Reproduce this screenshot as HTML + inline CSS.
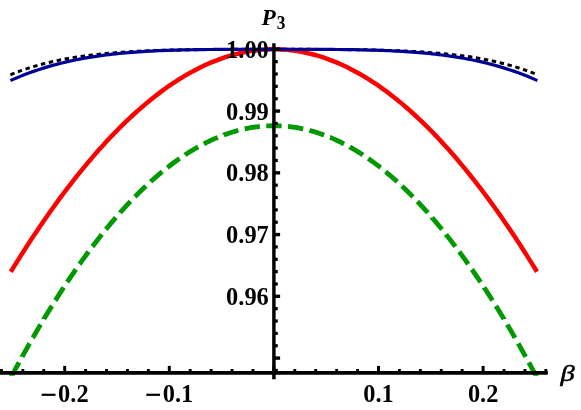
<!DOCTYPE html>
<html><head><meta charset="utf-8"><title>plot</title>
<style>
html,body{margin:0;padding:0;background:#fff;}
body{width:581px;height:410px;overflow:hidden;}
svg{display:block;will-change:transform;}
text{font-family:"Liberation Serif",serif;font-weight:bold;fill:#000;}
</style></head><body>
<svg width="581" height="410" viewBox="0 0 581 410">
<defs><clipPath id="gc"><rect x="0" y="0" width="581" height="375.8"/></clipPath></defs>
<rect width="581" height="410" fill="#fff"/>
<g fill="none" stroke-linecap="butt" stroke-linejoin="round">
<path d="M10.41 74.80 L13.71 73.46 L17.00 72.18 L20.29 70.95 L23.59 69.78 L26.88 68.67 L30.17 67.60 L33.47 66.58 L36.76 65.62 L40.05 64.69 L43.35 63.82 L46.64 62.98 L49.94 62.18 L53.23 61.43 L56.52 60.71 L59.82 60.02 L63.11 59.38 L66.40 58.76 L69.70 58.18 L72.99 57.62 L76.28 57.10 L79.58 56.60 L82.87 56.13 L86.17 55.69 L89.46 55.26 L92.75 54.87 L96.05 54.49 L99.34 54.14 L102.63 53.80 L105.93 53.49 L109.22 53.19 L112.51 52.92 L115.81 52.65 L119.10 52.41 L122.39 52.18 L125.69 51.96 L128.98 51.76 L132.28 51.57 L135.57 51.39 L138.86 51.22 L142.16 51.07 L145.45 50.92 L148.74 50.79 L152.04 50.66 L155.33 50.54 L158.62 50.44 L161.92 50.33 L165.21 50.24 L168.51 50.16 L171.80 50.08 L175.09 50.00 L178.39 49.93 L181.68 49.87 L184.97 49.81 L188.27 49.76 L191.56 49.71 L194.85 49.67 L198.15 49.63 L201.44 49.59 L204.73 49.56 L208.03 49.52 L211.32 49.50 L214.62 49.47 L217.91 49.45 L221.20 49.43 L224.50 49.41 L227.79 49.39 L231.08 49.38 L234.38 49.37 L237.67 49.35 L240.96 49.34 L244.26 49.33 L247.55 49.33 L250.84 49.32 L254.14 49.31 L257.43 49.31 L260.73 49.31 L264.02 49.30 L267.31 49.30 L270.61 49.30 L273.90 49.30 L277.19 49.30 L280.49 49.30 L283.78 49.30 L287.07 49.31 L290.37 49.31 L293.66 49.31 L296.96 49.32 L300.25 49.33 L303.54 49.33 L306.84 49.34 L310.13 49.35 L313.42 49.37 L316.72 49.38 L320.01 49.39 L323.30 49.41 L326.60 49.43 L329.89 49.45 L333.18 49.47 L336.48 49.50 L339.77 49.52 L343.07 49.56 L346.36 49.59 L349.65 49.63 L352.95 49.67 L356.24 49.71 L359.53 49.76 L362.83 49.81 L366.12 49.87 L369.41 49.93 L372.71 50.00 L376.00 50.08 L379.29 50.16 L382.59 50.24 L385.88 50.33 L389.18 50.44 L392.47 50.54 L395.76 50.66 L399.06 50.79 L402.35 50.92 L405.64 51.07 L408.94 51.22 L412.23 51.39 L415.52 51.57 L418.82 51.76 L422.11 51.96 L425.41 52.18 L428.70 52.41 L431.99 52.65 L435.29 52.92 L438.58 53.19 L441.87 53.49 L445.17 53.80 L448.46 54.14 L451.75 54.49 L455.05 54.87 L458.34 55.26 L461.63 55.69 L464.93 56.13 L468.22 56.60 L471.52 57.10 L474.81 57.62 L478.10 58.18 L481.40 58.76 L484.69 59.38 L487.98 60.02 L491.28 60.71 L494.57 61.43 L497.86 62.18 L501.16 62.98 L504.45 63.82 L507.75 64.69 L511.04 65.62 L514.33 66.58 L517.63 67.60 L520.92 68.67 L524.21 69.78 L527.51 70.95 L530.80 72.18 L534.09 73.46 L537.39 74.80" stroke="#000" stroke-width="3.0" stroke-dasharray="4.400 3.682"/>
<path d="M7.56 383.94 L7.56 383.94 L8.52 382.11 L9.47 380.29 L10.43 378.47 L11.39 376.66 L12.35 374.86 L13.31 373.06 L14.27 371.27 L15.23 369.48 L16.19 367.70 L17.15 365.93 L18.10 364.16 L19.05 362.43 M22.15 356.78 L22.15 356.77 L22.77 355.66 L23.38 354.55 L23.99 353.45 L24.60 352.35 L25.22 351.25 L25.83 350.15 L26.44 349.06 L27.05 347.97 L27.67 346.88 L28.28 345.80 L28.89 344.71 L29.50 343.63 L29.66 343.37 M32.85 337.77 L32.86 337.76 L33.50 336.65 L34.14 335.54 L34.78 334.44 L35.42 333.34 L36.06 332.24 L36.69 331.14 L37.33 330.05 L37.97 328.96 L38.61 327.87 L39.25 326.79 L39.89 325.70 L40.53 324.63 L40.61 324.50 M43.91 318.97 L43.91 318.96 L44.58 317.86 L45.24 316.75 L45.91 315.66 L46.58 314.56 L47.24 313.47 L47.91 312.38 L48.57 311.29 L49.24 310.21 L49.91 309.12 L50.57 308.05 L51.24 306.97 L51.90 305.90 L51.93 305.86 M55.35 300.40 L55.37 300.38 L56.06 299.28 L56.75 298.19 L57.44 297.10 L58.14 296.02 L58.83 294.94 L59.52 293.86 L60.21 292.79 L60.91 291.72 L61.60 290.65 L62.29 289.58 L62.98 288.52 L63.67 287.47 M67.22 282.10 L67.24 282.07 L67.96 280.99 L68.68 279.92 L69.40 278.85 L70.12 277.78 L70.84 276.72 L71.56 275.66 L72.28 274.60 L73.00 273.55 L73.72 272.51 L74.44 271.46 L75.15 270.42 L75.87 269.39 M79.57 264.11 L79.58 264.10 L80.32 263.05 L81.07 262.00 L81.81 260.96 L82.56 259.92 L83.30 258.88 L84.05 257.85 L84.80 256.82 L85.54 255.80 L86.29 254.78 L87.03 253.76 L87.78 252.75 L88.53 251.74 L88.58 251.66 M92.44 246.50 L92.47 246.47 L93.24 245.45 L94.01 244.44 L94.78 243.43 L95.56 242.42 L96.33 241.42 L97.10 240.42 L97.87 239.43 L98.65 238.44 L99.42 237.45 L100.19 236.47 L100.96 235.50 L101.74 234.52 L101.86 234.36 M105.91 229.34 L105.92 229.33 L106.72 228.36 L107.52 227.38 L108.31 226.41 L109.11 225.45 L109.91 224.49 L110.71 223.54 L111.51 222.59 L112.31 221.64 L113.11 220.70 L113.91 219.76 L114.71 218.83 L115.51 217.90 L115.79 217.57 M120.04 212.73 L120.06 212.70 L120.91 211.75 L121.76 210.80 L122.62 209.85 L123.47 208.91 L124.32 207.98 L125.17 207.04 L126.03 206.12 L126.88 205.20 L127.73 204.29 L128.58 203.38 L129.44 202.47 L130.29 201.57 L130.44 201.41 M134.92 196.78 L134.92 196.78 L135.83 195.86 L136.73 194.94 L137.64 194.04 L138.54 193.14 L139.45 192.24 L140.36 191.35 L141.26 190.47 L142.17 189.59 L143.07 188.72 L143.98 187.85 L144.88 186.99 L145.79 186.14 L145.90 186.03 M150.64 181.66 L150.66 181.64 L151.62 180.78 L152.58 179.92 L153.54 179.07 L154.50 178.23 L155.46 177.39 L156.42 176.56 L157.37 175.74 L158.33 174.92 L159.29 174.11 L160.25 173.31 L161.21 172.51 L162.17 171.72 L162.28 171.63 M167.31 167.60 L167.31 167.60 L168.32 166.81 L169.33 166.02 L170.35 165.25 L171.36 164.48 L172.37 163.72 L173.38 162.97 L174.39 162.23 L175.41 161.49 L176.42 160.76 L177.43 160.04 L178.44 159.33 L179.45 158.62 L179.67 158.47 M185.01 154.87 L185.02 154.86 L186.11 154.15 L187.21 153.45 L188.30 152.76 L189.39 152.08 L190.48 151.40 L191.57 150.74 L192.67 150.08 L193.76 149.43 L194.85 148.79 L195.94 148.16 L197.03 147.54 L198.13 146.92 L198.15 146.91 M203.83 143.86 L203.85 143.85 L205.00 143.26 L206.14 142.68 L207.29 142.12 L208.43 141.56 L209.58 141.01 L210.72 140.47 L211.87 139.94 L213.01 139.42 L214.16 138.92 L215.30 138.42 L216.45 137.93 L217.60 137.45 L217.76 137.38 M223.76 135.03 L223.77 135.02 L224.97 134.58 L226.17 134.16 L227.37 133.74 L228.57 133.33 L229.77 132.94 L230.97 132.55 L232.16 132.18 L233.36 131.81 L234.56 131.46 L235.76 131.12 L236.96 130.79 L238.16 130.46 L238.41 130.40 M244.68 128.90 L244.68 128.90 L245.93 128.64 L247.19 128.38 L248.44 128.14 L249.69 127.91 L250.94 127.70 L252.19 127.49 L253.44 127.29 L254.70 127.11 L255.95 126.94 L257.20 126.78 L258.45 126.63 L259.70 126.49 L259.85 126.48 M266.27 125.96 L266.28 125.96 L267.56 125.90 L268.84 125.84 L270.12 125.80 L271.40 125.77 L272.67 125.76 L273.95 125.75 L275.23 125.76 L276.51 125.78 L277.79 125.81 L279.07 125.85 L280.35 125.90 L281.62 125.97 L281.63 125.97 M288.06 126.49 L288.07 126.49 L289.32 126.63 L290.57 126.78 L291.82 126.94 L293.08 127.11 L294.33 127.29 L295.58 127.48 L296.83 127.69 L298.08 127.91 L299.34 128.14 L300.59 128.38 L301.84 128.63 L303.09 128.90 L303.22 128.92 M309.49 130.42 L309.51 130.43 L310.71 130.75 L311.91 131.08 L313.11 131.42 L314.30 131.77 L315.50 132.14 L316.70 132.51 L317.90 132.89 L319.10 133.29 L320.30 133.69 L321.50 134.11 L322.69 134.53 L323.89 134.97 L324.14 135.06 M330.13 137.42 L330.15 137.42 L331.30 137.90 L332.44 138.39 L333.59 138.89 L334.73 139.40 L335.88 139.92 L337.02 140.45 L338.17 140.98 L339.31 141.53 L340.46 142.09 L341.60 142.66 L342.75 143.23 L343.89 143.82 L344.06 143.90 M349.74 146.96 L349.75 146.97 L350.85 147.58 L351.94 148.20 L353.03 148.84 L354.12 149.48 L355.21 150.13 L356.31 150.78 L357.40 151.45 L358.49 152.13 L359.58 152.81 L360.67 153.50 L361.77 154.21 L362.86 154.92 L362.87 154.93 M368.22 158.53 L368.24 158.54 L369.25 159.25 L370.26 159.96 L371.27 160.69 L372.29 161.41 L373.30 162.15 L374.31 162.89 L375.32 163.65 L376.34 164.40 L377.35 165.17 L378.36 165.94 L379.37 166.72 L380.38 167.51 L380.57 167.66 M385.60 171.70 L385.60 171.70 L386.56 172.49 L387.52 173.28 L388.48 174.09 L389.44 174.90 L390.40 175.71 L391.36 176.54 L392.32 177.37 L393.27 178.21 L394.23 179.05 L395.19 179.90 L396.15 180.76 L397.11 181.62 L397.24 181.73 M401.97 186.10 L401.98 186.11 L402.89 186.97 L403.80 187.83 L404.70 188.69 L405.61 189.56 L406.51 190.44 L407.42 191.32 L408.32 192.21 L409.23 193.11 L410.13 194.01 L411.04 194.92 L411.95 195.83 L412.85 196.75 L412.95 196.85 M417.43 201.49 L417.46 201.52 L418.31 202.42 L419.16 203.32 L420.02 204.23 L420.87 205.14 L421.72 206.06 L422.57 206.99 L423.42 207.92 L424.28 208.85 L425.13 209.79 L425.98 210.74 L426.83 211.69 L427.69 212.64 L427.83 212.81 M432.08 217.65 L432.08 217.66 L432.88 218.58 L433.68 219.51 L434.48 220.45 L435.28 221.39 L436.08 222.33 L436.88 223.28 L437.67 224.24 L438.47 225.19 L439.27 226.16 L440.07 227.12 L440.87 228.10 L441.67 229.07 L441.96 229.42 M446.00 234.44 L446.01 234.46 L446.78 235.43 L447.56 236.41 L448.33 237.39 L449.10 238.37 L449.87 239.36 L450.65 240.35 L451.42 241.35 L452.19 242.35 L452.96 243.36 L453.73 244.37 L454.51 245.38 L455.28 246.40 L455.42 246.59 M459.28 251.75 L459.30 251.78 L460.05 252.78 L460.79 253.80 L461.54 254.81 L462.28 255.83 L463.03 256.86 L463.78 257.89 L464.52 258.92 L465.27 259.96 L466.01 261.00 L466.76 262.04 L467.50 263.09 L468.25 264.14 L468.29 264.20 M471.99 269.48 L472.01 269.50 L472.73 270.54 L473.44 271.58 L474.16 272.62 L474.88 273.67 L475.60 274.72 L476.32 275.78 L477.04 276.84 L477.76 277.90 L478.48 278.97 L479.20 280.04 L479.92 281.11 L480.63 282.18 M484.19 287.56 L484.20 287.59 L484.90 288.64 L485.59 289.71 L486.28 290.77 L486.97 291.84 L487.67 292.91 L488.36 293.98 L489.05 295.06 L489.74 296.14 L490.44 297.23 L491.13 298.32 L491.82 299.41 L492.50 300.48 M495.92 305.94 L495.95 305.99 L496.62 307.06 L497.28 308.13 L497.95 309.21 L498.61 310.29 L499.28 311.38 L499.95 312.46 L500.61 313.55 L501.28 314.65 L501.94 315.74 L502.61 316.84 L503.27 317.95 L503.94 319.05 L503.94 319.06 M507.25 324.59 L507.27 324.63 L507.91 325.70 L508.55 326.79 L509.19 327.87 L509.83 328.96 L510.47 330.05 L511.11 331.14 L511.74 332.24 L512.38 333.34 L513.02 334.44 L513.66 335.54 L514.30 336.65 L514.94 337.76 L515.00 337.86 M518.20 343.46 L518.22 343.49 L518.83 344.57 L519.44 345.66 L520.05 346.74 L520.67 347.83 L521.28 348.92 L521.89 350.01 L522.50 351.11 L523.12 352.21 L523.73 353.31 L524.34 354.41 L524.95 355.52 L525.57 356.62 L525.70 356.87 M528.80 362.52 L528.82 362.55 L529.75 364.26 L530.68 365.98 L531.61 367.70 L532.55 369.43 L533.48 371.17 L534.41 372.91 L535.34 374.66 L536.27 376.41 L537.21 378.17 L538.14 379.94 L539.07 381.71 L540.00 383.48 L540.24 383.94" stroke="#009900" stroke-width="4.8" clip-path="url(#gc)"/>
<path d="M10.83 271.79 L14.12 266.42 L17.41 261.12 L20.70 255.88 L23.98 250.70 L27.27 245.59 L30.56 240.54 L33.85 235.55 L37.14 230.63 L40.43 225.77 L43.71 220.97 L47.00 216.23 L50.29 211.56 L53.58 206.96 L56.87 202.41 L60.16 197.93 L63.44 193.51 L66.73 189.15 L70.02 184.86 L73.31 180.63 L76.60 176.47 L79.89 172.36 L83.17 168.32 L86.46 164.35 L89.75 160.44 L93.04 156.59 L96.33 152.81 L99.62 149.09 L102.91 145.44 L106.19 141.85 L109.48 138.32 L112.77 134.86 L116.06 131.47 L119.35 128.14 L122.64 124.88 L125.92 121.68 L129.21 118.55 L132.50 115.48 L135.79 112.49 L139.08 109.56 L142.37 106.69 L145.65 103.89 L148.94 101.16 L152.23 98.50 L155.52 95.91 L158.81 93.38 L162.10 90.92 L165.38 88.54 L168.67 86.21 L171.96 83.96 L175.25 81.78 L178.54 79.67 L181.83 77.62 L185.11 75.65 L188.40 73.75 L191.69 71.91 L194.98 70.15 L198.27 68.46 L201.56 66.83 L204.84 65.28 L208.13 63.80 L211.42 62.39 L214.71 61.06 L218.00 59.79 L221.29 58.59 L224.57 57.47 L227.86 56.42 L231.15 55.44 L234.44 54.53 L237.73 53.70 L241.02 52.94 L244.30 52.25 L247.59 51.63 L250.88 51.08 L254.17 50.61 L257.46 50.21 L260.75 49.88 L264.03 49.63 L267.32 49.45 L270.61 49.34 L273.90 49.30 L277.19 49.34 L280.48 49.45 L283.77 49.63 L287.05 49.88 L290.34 50.21 L293.63 50.61 L296.92 51.08 L300.21 51.63 L303.50 52.25 L306.78 52.94 L310.07 53.70 L313.36 54.53 L316.65 55.44 L319.94 56.42 L323.23 57.47 L326.51 58.59 L329.80 59.79 L333.09 61.06 L336.38 62.39 L339.67 63.80 L342.96 65.28 L346.24 66.83 L349.53 68.46 L352.82 70.15 L356.11 71.91 L359.40 73.75 L362.69 75.65 L365.97 77.62 L369.26 79.67 L372.55 81.78 L375.84 83.96 L379.13 86.21 L382.42 88.54 L385.70 90.92 L388.99 93.38 L392.28 95.91 L395.57 98.50 L398.86 101.16 L402.15 103.89 L405.43 106.69 L408.72 109.56 L412.01 112.49 L415.30 115.48 L418.59 118.55 L421.88 121.68 L425.16 124.88 L428.45 128.14 L431.74 131.47 L435.03 134.86 L438.32 138.32 L441.61 141.85 L444.89 145.44 L448.18 149.09 L451.47 152.81 L454.76 156.59 L458.05 160.44 L461.34 164.35 L464.63 168.32 L467.91 172.36 L471.20 176.47 L474.49 180.63 L477.78 184.86 L481.07 189.15 L484.36 193.51 L487.64 197.93 L490.93 202.41 L494.22 206.96 L497.51 211.56 L500.80 216.23 L504.09 220.97 L507.37 225.77 L510.66 230.63 L513.95 235.55 L517.24 240.54 L520.53 245.59 L523.82 250.70 L527.10 255.88 L530.39 261.12 L533.68 266.42 L536.97 271.79" stroke="#ff0000" stroke-width="4.5"/>
<path d="M10.41 80.60 L13.71 79.14 L17.00 77.72 L20.29 76.36 L23.59 75.04 L26.88 73.78 L30.17 72.56 L33.47 71.38 L36.76 70.25 L40.05 69.16 L43.35 68.12 L46.64 67.12 L49.94 66.15 L53.23 65.23 L56.52 64.34 L59.82 63.49 L63.11 62.68 L66.40 61.90 L69.70 61.16 L72.99 60.45 L76.28 59.77 L79.58 59.13 L82.87 58.51 L86.17 57.93 L89.46 57.37 L92.75 56.84 L96.05 56.33 L99.34 55.85 L102.63 55.40 L105.93 54.97 L109.22 54.57 L112.51 54.18 L115.81 53.82 L119.10 53.48 L122.39 53.16 L125.69 52.85 L128.98 52.57 L132.28 52.30 L135.57 52.05 L138.86 51.82 L142.16 51.60 L145.45 51.40 L148.74 51.21 L152.04 51.03 L155.33 50.87 L158.62 50.72 L161.92 50.58 L165.21 50.45 L168.51 50.33 L171.80 50.22 L175.09 50.12 L178.39 50.03 L181.68 49.95 L184.97 49.87 L188.27 49.80 L191.56 49.74 L194.85 49.68 L198.15 49.63 L201.44 49.59 L204.73 49.55 L208.03 49.51 L211.32 49.48 L214.62 49.45 L217.91 49.43 L221.20 49.41 L224.50 49.39 L227.79 49.37 L231.08 49.36 L234.38 49.35 L237.67 49.34 L240.96 49.33 L244.26 49.32 L247.55 49.32 L250.84 49.31 L254.14 49.31 L257.43 49.31 L260.73 49.30 L264.02 49.30 L267.31 49.30 L270.61 49.30 L273.90 49.30 L277.19 49.30 L280.49 49.30 L283.78 49.30 L287.07 49.30 L290.37 49.31 L293.66 49.31 L296.96 49.31 L300.25 49.32 L303.54 49.32 L306.84 49.33 L310.13 49.34 L313.42 49.35 L316.72 49.36 L320.01 49.37 L323.30 49.39 L326.60 49.41 L329.89 49.43 L333.18 49.45 L336.48 49.48 L339.77 49.51 L343.07 49.55 L346.36 49.59 L349.65 49.63 L352.95 49.68 L356.24 49.74 L359.53 49.80 L362.83 49.87 L366.12 49.95 L369.41 50.03 L372.71 50.12 L376.00 50.22 L379.29 50.33 L382.59 50.45 L385.88 50.58 L389.18 50.72 L392.47 50.87 L395.76 51.03 L399.06 51.21 L402.35 51.40 L405.64 51.60 L408.94 51.82 L412.23 52.05 L415.52 52.30 L418.82 52.57 L422.11 52.85 L425.41 53.16 L428.70 53.48 L431.99 53.82 L435.29 54.18 L438.58 54.57 L441.87 54.97 L445.17 55.40 L448.46 55.85 L451.75 56.33 L455.05 56.84 L458.34 57.37 L461.63 57.93 L464.93 58.51 L468.22 59.13 L471.52 59.77 L474.81 60.45 L478.10 61.16 L481.40 61.90 L484.69 62.68 L487.98 63.49 L491.28 64.34 L494.57 65.23 L497.86 66.15 L501.16 67.12 L504.45 68.12 L507.75 69.16 L511.04 70.25 L514.33 71.38 L517.63 72.56 L520.92 73.78 L524.21 75.04 L527.51 76.36 L530.80 77.72 L534.09 79.14 L537.39 80.60" stroke="#000096" stroke-width="3.2"/>
</g>
<g stroke="#000" fill="none">
<line x1="0" y1="372.8" x2="547.8" y2="372.8" stroke-width="3.8"/>
<line x1="273.9" y1="43.2" x2="273.9" y2="379.3" stroke-width="3.45"/>
<line x1="1.45" y1="372.80" x2="1.45" y2="369.00" stroke-width="2.9"/>
<line x1="22.86" y1="372.80" x2="22.86" y2="369.00" stroke-width="2.9"/>
<line x1="43.78" y1="372.80" x2="43.78" y2="369.00" stroke-width="2.9"/>
<line x1="64.70" y1="372.80" x2="64.70" y2="365.90" stroke-width="3.0"/>
<line x1="85.62" y1="372.80" x2="85.62" y2="369.00" stroke-width="2.9"/>
<line x1="106.54" y1="372.80" x2="106.54" y2="369.00" stroke-width="2.9"/>
<line x1="127.46" y1="372.80" x2="127.46" y2="369.00" stroke-width="2.9"/>
<line x1="148.38" y1="372.80" x2="148.38" y2="369.00" stroke-width="2.9"/>
<line x1="169.30" y1="372.80" x2="169.30" y2="365.90" stroke-width="3.0"/>
<line x1="190.22" y1="372.80" x2="190.22" y2="369.00" stroke-width="2.9"/>
<line x1="211.14" y1="372.80" x2="211.14" y2="369.00" stroke-width="2.9"/>
<line x1="232.06" y1="372.80" x2="232.06" y2="369.00" stroke-width="2.9"/>
<line x1="252.98" y1="372.80" x2="252.98" y2="369.00" stroke-width="2.9"/>
<line x1="273.90" y1="372.80" x2="273.90" y2="365.90" stroke-width="3.0"/>
<line x1="294.82" y1="372.80" x2="294.82" y2="369.00" stroke-width="2.9"/>
<line x1="315.74" y1="372.80" x2="315.74" y2="369.00" stroke-width="2.9"/>
<line x1="336.66" y1="372.80" x2="336.66" y2="369.00" stroke-width="2.9"/>
<line x1="357.58" y1="372.80" x2="357.58" y2="369.00" stroke-width="2.9"/>
<line x1="378.50" y1="372.80" x2="378.50" y2="365.90" stroke-width="3.0"/>
<line x1="399.42" y1="372.80" x2="399.42" y2="369.00" stroke-width="2.9"/>
<line x1="420.34" y1="372.80" x2="420.34" y2="369.00" stroke-width="2.9"/>
<line x1="441.26" y1="372.80" x2="441.26" y2="369.00" stroke-width="2.9"/>
<line x1="462.18" y1="372.80" x2="462.18" y2="369.00" stroke-width="2.9"/>
<line x1="483.10" y1="372.80" x2="483.10" y2="365.90" stroke-width="3.0"/>
<line x1="504.02" y1="372.80" x2="504.02" y2="369.00" stroke-width="2.9"/>
<line x1="524.94" y1="372.80" x2="524.94" y2="369.00" stroke-width="2.9"/>
<line x1="545.86" y1="372.80" x2="545.86" y2="369.00" stroke-width="2.9"/>
<line x1="273.90" y1="49.30" x2="280.10" y2="49.30" stroke-width="3.4"/>
<line x1="273.90" y1="61.65" x2="277.80" y2="61.65" stroke-width="3.2"/>
<line x1="273.90" y1="74.00" x2="277.80" y2="74.00" stroke-width="3.2"/>
<line x1="273.90" y1="86.36" x2="277.80" y2="86.36" stroke-width="3.2"/>
<line x1="273.90" y1="98.71" x2="277.80" y2="98.71" stroke-width="3.2"/>
<line x1="273.90" y1="111.06" x2="280.10" y2="111.06" stroke-width="3.4"/>
<line x1="273.90" y1="123.41" x2="277.80" y2="123.41" stroke-width="3.2"/>
<line x1="273.90" y1="135.76" x2="277.80" y2="135.76" stroke-width="3.2"/>
<line x1="273.90" y1="148.12" x2="277.80" y2="148.12" stroke-width="3.2"/>
<line x1="273.90" y1="160.47" x2="277.80" y2="160.47" stroke-width="3.2"/>
<line x1="273.90" y1="172.82" x2="280.10" y2="172.82" stroke-width="3.4"/>
<line x1="273.90" y1="185.17" x2="277.80" y2="185.17" stroke-width="3.2"/>
<line x1="273.90" y1="197.52" x2="277.80" y2="197.52" stroke-width="3.2"/>
<line x1="273.90" y1="209.88" x2="277.80" y2="209.88" stroke-width="3.2"/>
<line x1="273.90" y1="222.23" x2="277.80" y2="222.23" stroke-width="3.2"/>
<line x1="273.90" y1="234.58" x2="280.10" y2="234.58" stroke-width="3.4"/>
<line x1="273.90" y1="246.93" x2="277.80" y2="246.93" stroke-width="3.2"/>
<line x1="273.90" y1="259.28" x2="277.80" y2="259.28" stroke-width="3.2"/>
<line x1="273.90" y1="271.64" x2="277.80" y2="271.64" stroke-width="3.2"/>
<line x1="273.90" y1="283.99" x2="277.80" y2="283.99" stroke-width="3.2"/>
<line x1="273.90" y1="296.34" x2="280.10" y2="296.34" stroke-width="3.4"/>
<line x1="273.90" y1="308.69" x2="277.80" y2="308.69" stroke-width="3.2"/>
<line x1="273.90" y1="321.04" x2="277.80" y2="321.04" stroke-width="3.2"/>
<line x1="273.90" y1="333.40" x2="277.80" y2="333.40" stroke-width="3.2"/>
<line x1="273.90" y1="345.75" x2="277.80" y2="345.75" stroke-width="3.2"/>
<line x1="273.90" y1="358.10" x2="280.10" y2="358.10" stroke-width="3.4"/>
<line x1="273.90" y1="370.45" x2="277.80" y2="370.45" stroke-width="3.2"/>
</g>
<rect x="41.70" y="393.70" width="13.80" height="2.2" fill="#000"/>
<text x="58.1" y="402.1" font-size="24.4">0.2</text>
<rect x="146.30" y="393.70" width="13.80" height="2.2" fill="#000"/>
<text x="162.7" y="402.1" font-size="24.4">0.1</text>
<text x="363.2" y="402.1" font-size="24.4">0.1</text>
<text x="467.9" y="402.1" font-size="24.4">0.2</text>
<text x="268.8" y="57.90" text-anchor="end" font-size="24.4">1.00</text>
<text x="268.8" y="119.66" text-anchor="end" font-size="24.4">0.99</text>
<text x="268.8" y="181.42" text-anchor="end" font-size="24.4">0.98</text>
<text x="268.8" y="243.18" text-anchor="end" font-size="24.4">0.97</text>
<text x="268.8" y="304.94" text-anchor="end" font-size="24.4">0.96</text>
<text transform="translate(261.6,24.9) scale(0.97,1)" font-size="24.1" font-style="italic">P</text>
<text transform="translate(276.8,29.35) scale(0.96,1)" font-size="18">3</text>
<text transform="translate(560.5,380.8) scale(1.14,0.95)" x="0" y="0" font-size="25" font-style="italic" style="font-weight:normal" stroke="#000" stroke-width="0.6" stroke-linejoin="round">β</text>
</svg>
</body></html>
